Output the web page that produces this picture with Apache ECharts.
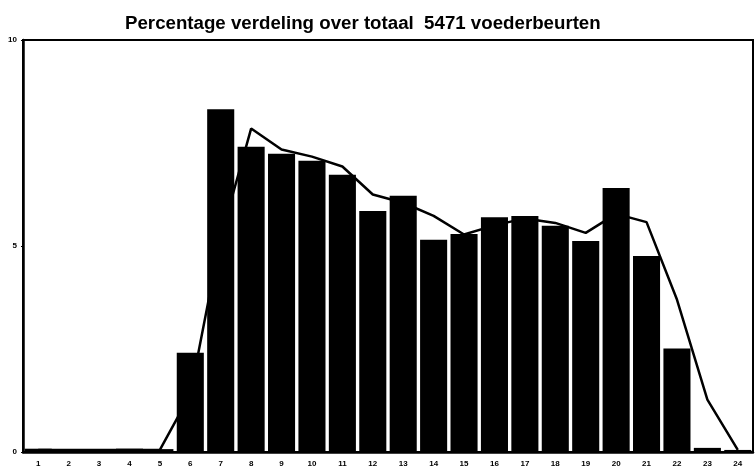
<!DOCTYPE html>
<html>
<head>
<meta charset="utf-8">
<script src="https://cdn.jsdelivr.net/npm/echarts@6/dist/echarts.min.js"></script>
<style>html,body{margin:0;padding:0;background:#fff}#c{width:755px;height:475px}</style>
</head>
<body>
<div id="c"></div>
<script>
const titleText = 'Percentage verdeling over totaal  5471 voederbeurten';
const categories = ['1','2','3','4','5','6','7','8','9','10','11','12','13','14','15','16','17','18','19','20','21','22','23','24'];
const barValues = [0.08,0.05,0.04,0.08,0.07,2.41,8.32,7.41,7.24,7.07,6.73,5.85,6.22,5.15,5.29,5.70,5.73,5.49,5.12,6.41,4.76,2.51,0.10,0.05];
const lineValues = [0.05,0.05,0.05,0.05,0.05,1.40,5.20,7.85,7.34,7.17,6.93,6.25,6.05,5.73,5.28,5.50,5.67,5.56,5.32,5.78,5.58,3.70,1.27,0.05];
const yTicks = {min:0, max:10, interval:5};

const chart = echarts.init(document.getElementById('c'), null, {renderer:'canvas'});
chart.setOption({
  animation:false,
  backgroundColor:'#fff',
  title:{
    text:titleText, left:120, top:9,
    textStyle:{fontFamily:'Liberation Sans', fontWeight:'bold', fontSize:18.7, color:'#000'}
  },
  grid:{left:23, right:2, top:40, bottom:23, show:true, borderColor:'#000', borderWidth:2, backgroundColor:'transparent'},
  xAxis:{
    type:'category', data:categories,
    axisLine:{lineStyle:{color:'#000', width:2.5}},
    axisTick:{show:false},
    axisLabel:{color:'#000', fontFamily:'Liberation Sans', fontWeight:'bold', fontSize:8, margin:8},
    splitLine:{show:false}
  },
  yAxis:{
    type:'value', min:yTicks.min, max:yTicks.max, interval:yTicks.interval,
    axisLine:{show:true, lineStyle:{color:'#000', width:2.5}},
    axisTick:{show:true, length:2, lineStyle:{color:'#000'}},
    axisLabel:{color:'#000', fontFamily:'Liberation Sans', fontWeight:'bold', fontSize:8, margin:6},
    splitLine:{show:false}
  },
  series:[
    {type:'line', data:lineValues, symbol:'none', z:1,
     lineStyle:{color:'#000', width:2.5}},
    {type:'bar', data:barValues, z:3, barCategoryGap:'11%',
     itemStyle:{color:'#000'}}
  ]
});
</script>
</body>
</html>
